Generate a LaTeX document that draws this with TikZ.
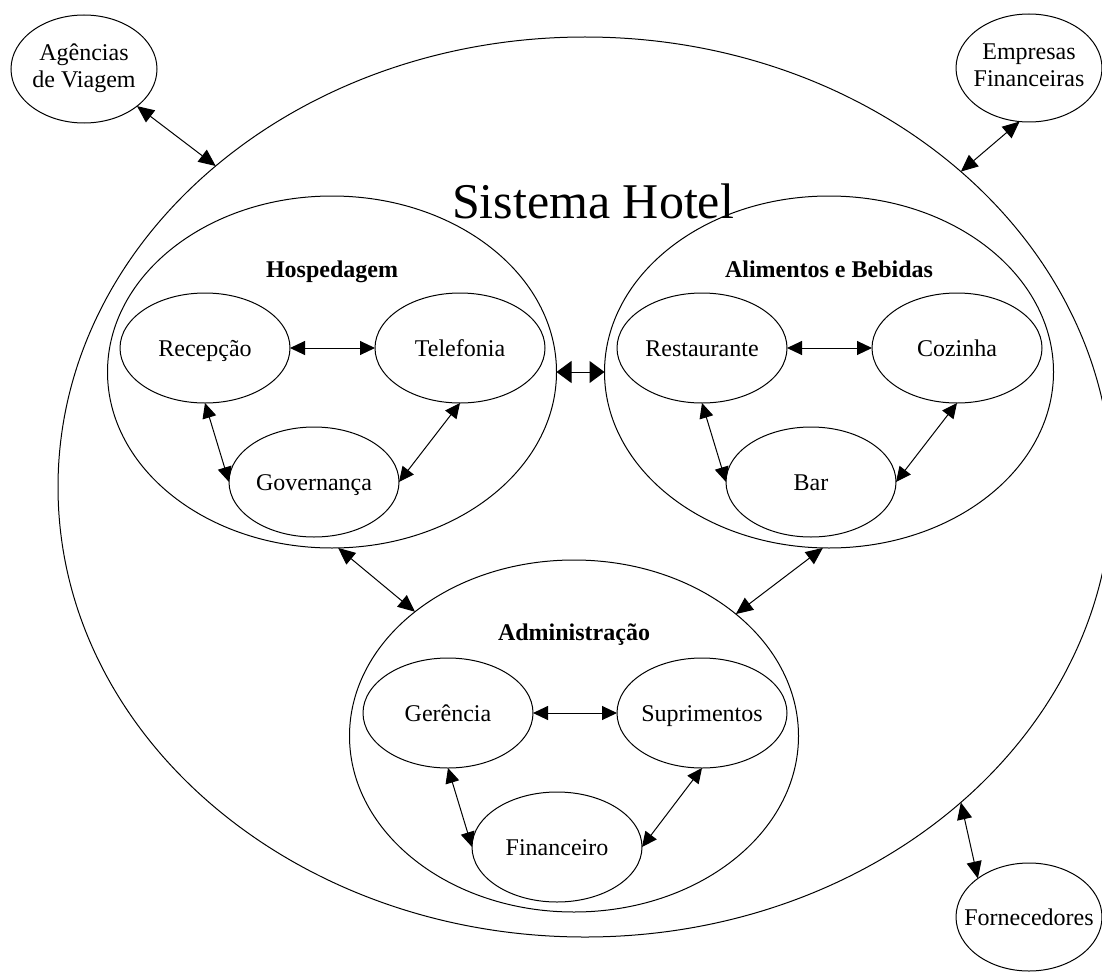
\documentclass[tikz,border=0pt]{standalone}
\usepackage{fontspec}
\setmainfont{Liberation Serif}
\usetikzlibrary{shapes.geometric,arrows.meta}
\begin{document}
\begin{tikzpicture}[x=1pt,y=-1pt,
  oval/.style={draw,ellipse,line width=1pt,inner sep=0pt,outer sep=0pt},
  unit/.style={oval,minimum width=170pt,minimum height=110pt,text height=18pt,text depth=2pt,font=\fontsize{24}{27}\selectfont},
  ext/.style={oval,minimum width=146pt,minimum height=108pt,font=\fontsize{24}{27}\selectfont},
  dept/.style={oval,minimum width=449pt,minimum height=352pt},
  depttitle/.style={anchor=base,font=\fontsize{24}{27}\selectfont\bfseries},
  link/.style={line width=1pt,{Triangle[length=15pt,width=14pt]}-{Triangle[length=15pt,width=14pt]}},
  outlink/.style={line width=1pt,{Triangle[length=17pt,width=15pt]}-{Triangle[length=17pt,width=15pt]}},
  biglink/.style={line width=1pt,{Triangle[length=15pt,width=22pt]}-{Triangle[length=15pt,width=22pt]}}
]
\useasboundingbox (0,0) rectangle (1102,971);

% the hotel system as a whole
\node[oval,minimum width=1054pt,minimum height=900pt] (hotel) at (585,487) {};
\node[anchor=base,font=\fontsize{50}{60}\selectfont] (sistema) at (593,218) {Sistema Hotel};

% external partners
\node[ext] (agencias) at (84,69) {\makebox[0pt]{\begin{tabular}{@{}c@{}}Agências\\de Viagem\end{tabular}}};
\node[ext] (empresas) at (1029,68) {\makebox[0pt]{\begin{tabular}{@{}c@{}}Empresas\\Financeiras\end{tabular}}};
\node[ext,text height=18pt,text depth=2pt] (fornec) at (1029,917) {\makebox[0pt]{Fornecedores}};

% Hospedagem
\node[dept] (hosp) at (332,372) {};
\node[depttitle] (hosptit) at (332,277) {Hospedagem};
\node[unit] (recepcao) at (205,348) {\makebox[0pt]{Recepção}};
\node[unit] (telefonia) at (460,348) {\makebox[0pt]{Telefonia}};
\node[unit] (governanca) at (314,482) {\makebox[0pt]{Governança}};

% Alimentos e Bebidas
\node[dept] (alim) at (829,372) {};
\node[depttitle] (alimtit) at (829,277) {Alimentos e Bebidas};
\node[unit] (restaurante) at (702,348) {\makebox[0pt]{Restaurante}};
\node[unit] (cozinha) at (957,348) {\makebox[0pt]{Cozinha}};
\node[unit] (bar) at (811,482) {\makebox[0pt]{Bar}};

% Administração
\node[dept] (adm) at (574,736) {};
\node[depttitle] (admtit) at (574,640) {Administração};
\node[unit] (gerencia) at (448,713) {\makebox[0pt]{Gerência}};
\node[unit] (suprimentos) at (702,713) {\makebox[0pt]{Suprimentos}};
\node[unit] (financeiro) at (557,847) {\makebox[0pt]{Financeiro}};

% links inside each department
\draw[link] (recepcao.east) -- (telefonia.west);
\draw[link] (recepcao.south) -- (governanca.west);
\draw[link] (telefonia.south) -- (governanca.east);

\draw[link] (restaurante.east) -- (cozinha.west);
\draw[link] (restaurante.south) -- (bar.west);
\draw[link] (cozinha.south) -- (bar.east);

\draw[link] (gerencia.east) -- (suprimentos.west);
\draw[link] (gerencia.south) -- (financeiro.west);
\draw[link] (suprimentos.south) -- (financeiro.east);

% links between departments
\draw[biglink] (hosp.east) -- (alim.west);
\draw[outlink] (hosp.272.6) -- (adm.142.9);
\draw[outlink] (alim.268.7) -- (adm.37.6);

% links to the outside world
\draw[outlink] (agencias.-35.6) -- (hotel.139.4);
\draw[outlink] (empresas.260.7) -- (hotel.40.4);
\draw[outlink] (fornec.143.1) -- (hotel.-40.3);
\end{tikzpicture}
\end{document}
